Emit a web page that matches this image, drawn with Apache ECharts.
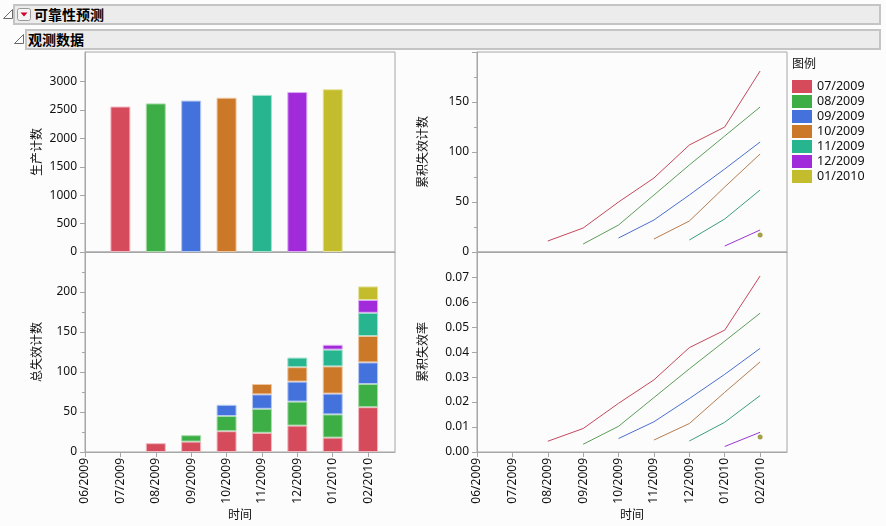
<!DOCTYPE html>
<html>
<head>
<meta charset="utf-8">
<script src="https://cdn.jsdelivr.net/npm/echarts@6/dist/echarts.min.js"></script>
<style>
html,body{margin:0;padding:0;background:#fcfcfc;}
#wrap{position:relative;width:886px;height:526px;overflow:hidden;background:#fcfcfc;}
#chart{position:absolute;left:0;top:0;width:886px;height:526px;}
.hdr{position:absolute;background:#ececec;border:2px solid #c4c4c4;box-sizing:border-box;
 font-family:"Noto Sans CJK SC","Noto Sans",sans-serif;font-weight:bold;font-size:14px;color:#000;line-height:17px;}
.tri{position:absolute;}
</style>
</head>
<body>
<div id="wrap">
<div id="chart"></div>
<svg class="tri" style="left:2px;top:8px" width="12" height="12"><path d="M10.5 1.5 L10.5 10.5 L1.5 10.5 Z" fill="none" stroke="#6a6a6a" stroke-width="1"/></svg>
<div class="hdr" style="left:13px;top:4px;width:868px;height:21px;">
  <svg style="position:absolute;left:2px;top:2px" width="15" height="14"><rect x="0.5" y="0.5" width="13" height="12" rx="2" fill="#f4f4f4" stroke="#9a9a9a"/><path d="M3.5 4.5 L10.5 4.5 L7 8.5 Z" fill="#d4002a"/></svg>
  <span style="position:absolute;left:19px;top:0px;">可靠性预测</span>
</div>
<svg class="tri" style="left:13px;top:33px" width="12" height="12"><path d="M10.5 1.5 L10.5 10.5 L1.5 10.5 Z" fill="none" stroke="#6a6a6a" stroke-width="1"/></svg>
<div class="hdr" style="left:25px;top:29px;width:856px;height:21px;">
  <span style="position:absolute;left:1px;top:0px;">观测数据</span>
</div>
</div>
<script>
// ---- data ----
var timeLabels = ['06/2009','07/2009','08/2009','09/2009','10/2009','11/2009','12/2009','01/2010','02/2010'];
var cohorts = ['07/2009','08/2009','09/2009','10/2009','11/2009','12/2009','01/2010'];
var cohortX = [1,2,3,4,5,6,7];
var production = [2560,2615,2665,2715,2765,2815,2865];
// failures per period (index = time label index), per cohort
var fail0709 = [null,null,11,13,26,24,33,18,56];
var fail0809 = [null,null,null,8,19,30,30,29,29];
var fail0909 = [null,null,null,null,14,18,25,26,27];
var fail1009 = [null,null,null,null,null,13,18,34,33];
var fail1109 = [null,null,null,null,null,null,12,21,29];
var fail1209 = [null,null,null,null,null,null,null,6,16];
var fail0110 = [null,null,null,null,null,null,null,null,17];
// cumulative failures
var cum0709 = [null,null,11,24,50,74,107,125,181];
var cum0809 = [null,null,null,8,27,57,87,116,145];
var cum0909 = [null,null,null,null,14,32,57,83,110];
var cum1009 = [null,null,null,null,null,13,31,65,98];
var cum1109 = [null,null,null,null,null,null,12,33,62];
var cum1209 = [null,null,null,null,null,null,null,6,22];
var cum0110 = [null,null,null,null,null,null,null,null,17];
// cumulative failure rate
var rate0709 = [null,null,0.0043,0.0094,0.0195,0.0289,0.0418,0.0488,0.0705];
var rate0809 = [null,null,null,0.0031,0.0103,0.0218,0.0333,0.0444,0.0556];
var rate0909 = [null,null,null,null,0.0054,0.0121,0.0214,0.0311,0.0415];
var rate1009 = [null,null,null,null,null,0.0048,0.0114,0.0239,0.0361];
var rate1109 = [null,null,null,null,null,null,0.0044,0.0119,0.0226];
var rate1209 = [null,null,null,null,null,null,null,0.0022,0.0079];
var rate0110 = [null,null,null,null,null,null,null,null,0.0060];

var failSets = [fail0709,fail0809,fail0909,fail1009,fail1109,fail1209,fail0110];
var cumSets = [cum0709,cum0809,cum0909,cum1009,cum1109,cum1209,cum0110];
var rateSets = [rate0709,rate0809,rate0909,rate1009,rate1109,rate1209,rate0110];

var barColors = ['#d54b5b','#3dae46','#4472dd','#cb7829','#27b58f','#a12bdb','#c3bd2d'];
var barBorders = ['#f0b8c0','#a8dcaa','#b5c8f2','#eec49e','#a4e0cc','#dcaaf2','#e6e2a2'];
var lineColors = ['#c4495c','#5c9e5a','#4a6fd0','#b57c50','#3c9e80','#9b35d4','#8e8a1e'];

var FF = '"Noto Sans","Noto Sans CJK SC",sans-serif';
var tickIdx = [0,1,2,3,4,5,6,7,8];

function pairs(arr){
  var out = [];
  for (var i=0;i<arr.length;i++){ if (arr[i] !== null) out.push([i, arr[i]]); }
  return out;
}
// [value, timeIndex] rows (encoded y:0, x:1) so that stacking applies to the value dimension
function stackRows(arr){
  var out = [];
  for (var i=0;i<arr.length;i++){ out.push([arr[i] === null ? '-' : arr[i], i]); }
  return out;
}

var grids = [
  {left:85, top:52, width:310, height:200},
  {left:85, top:252, width:310, height:200},
  {left:477, top:52, width:310, height:200},
  {left:477, top:252, width:310, height:200}
];
grids.forEach(function(g){ g.show = true; g.borderColor = '#a6a6a6'; g.borderWidth = 1; g.backgroundColor = '#fcfcfc'; });

function xAxis(gi, showLabels){
  return {
    type:'value', gridIndex:gi, min:0, max:8.76,
    axisLine:{show:true, lineStyle:{color:'#a6a6a6'}},
    axisTick:{show:showLabels, length:5, lineStyle:{color:'#a6a6a6'}, customValues:tickIdx},
    axisLabel:{show:showLabels, rotate:90, margin:6, fontSize:12, fontFamily:FF, color:'#111',
      customValues:tickIdx, formatter:function(v){ return timeLabels[Math.round(v)] || ''; }},
    splitLine:{show:false},
    name: showLabels ? '时间' : '', nameLocation:'middle', nameGap:58,
    nameTextStyle:{fontSize:12, fontFamily:FF, color:'#111'}
  };
}
function yAxis(gi, o){
  var a = {
    type:'value', gridIndex:gi, min:0, max:o.max,
    axisLine:{show:true, lineStyle:{color:'#a6a6a6'}},
    axisTick:{show:true, length:5, lineStyle:{color:'#a6a6a6'}, customValues:o.ticks},
    axisLabel:{fontSize:12, fontFamily:FF, color:'#111', margin:8, customValues:o.labels,
      formatter:o.fmt || function(v){ return String(v); }},
    splitLine:{show:false},
    name:o.name, nameLocation:'middle', nameRotate:90, nameGap:o.gap,
    nameTextStyle:{fontSize:12, fontFamily:FF, color:'#111'}
  };
  if (o.minor) { a.minorTick = {show:true, splitNumber:2, length:3, lineStyle:{color:'#a6a6a6'}}; a.interval = o.interval; delete a.axisTick.customValues; }
  return a;
}

var series = [];
// top-left production bars
series.push({
  type:'bar', xAxisIndex:0, yAxisIndex:0, barWidth:20, silent:true,
  data: production.map(function(v,i){
    return {value:[cohortX[i], v], itemStyle:{color:barColors[i], borderColor:barBorders[i], borderWidth:1}};
  })
});
// bottom-left stacked bars
cohorts.forEach(function(c,i){
  series.push({
    type:'bar', name:c, xAxisIndex:1, yAxisIndex:1, stack:'total', barWidth:20,
    encode:{x:1, y:0},
    itemStyle:{color:barColors[i], borderColor:barBorders[i], borderWidth:1},
    data: stackRows(failSets[i])
  });
});
// top-right cumulative counts, bottom-right cumulative rates
cohorts.forEach(function(c,i){
  var single = pairs(cumSets[i]).length === 1;
  series.push({
    type: single ? 'scatter' : 'line', name:c, xAxisIndex:2, yAxisIndex:2,
    symbol:'circle', symbolSize: single ? 5 : 0, showSymbol: single,
    lineStyle:{color:lineColors[i], width:1}, itemStyle:{color:lineColors[i]},
    data: pairs(cumSets[i])
  });
  series.push({
    type: single ? 'scatter' : 'line', name:c, xAxisIndex:3, yAxisIndex:3,
    symbol:'circle', symbolSize: single ? 5 : 0, showSymbol: single,
    lineStyle:{color:lineColors[i], width:1}, itemStyle:{color:lineColors[i]},
    data: pairs(rateSets[i])
  });
});

var option = {
  animation:false,
  backgroundColor:'#fcfcfc',
  grid: grids,
  xAxis:[xAxis(0,false), xAxis(1,true), xAxis(2,false), xAxis(3,true)],
  yAxis:[
    yAxis(0,{max:3520, ticks:[0,500,1000,1500,2000,2500,3000], labels:[0,500,1000,1500,2000,2500,3000], name:'生产计数', gap:41}),
    yAxis(1,{max:250, interval:50, minor:true, labels:[0,50,100,150,200], name:'总失效计数', gap:41}),
    yAxis(2,{max:200, interval:50, minor:true, labels:[0,50,100,150], name:'累积失效计数', gap:47}),
    yAxis(3,{max:0.0801, ticks:[0,0.01,0.02,0.03,0.04,0.05,0.06,0.07], labels:[0,0.01,0.02,0.03,0.04,0.05,0.06,0.07], name:'累积失效率', gap:47,
      fmt:function(v){ return v.toFixed(2); }})
  ],
  legend:{
    left:792, top:80, orient:'vertical', itemWidth:20, itemHeight:13, itemGap:2, icon:'rect',
    padding:0, selectedMode:false,
    itemStyle:{borderWidth:0},
    textStyle:{fontSize:12.5, fontFamily:FF, color:'#111'},
    data: cohorts.map(function(c,i){ return {name:c, itemStyle:{color:barColors[i], borderWidth:0}}; })
  },
  graphic:[
    {type:'text', left:792, top:59, style:{text:'图例', fontSize:12, fontFamily:FF, fill:'#111'}}
  ],
  series: series
};

var chart = echarts.init(document.getElementById('chart'), null, {renderer:'canvas'});
chart.setOption(option);
</script>
</body>
</html>
